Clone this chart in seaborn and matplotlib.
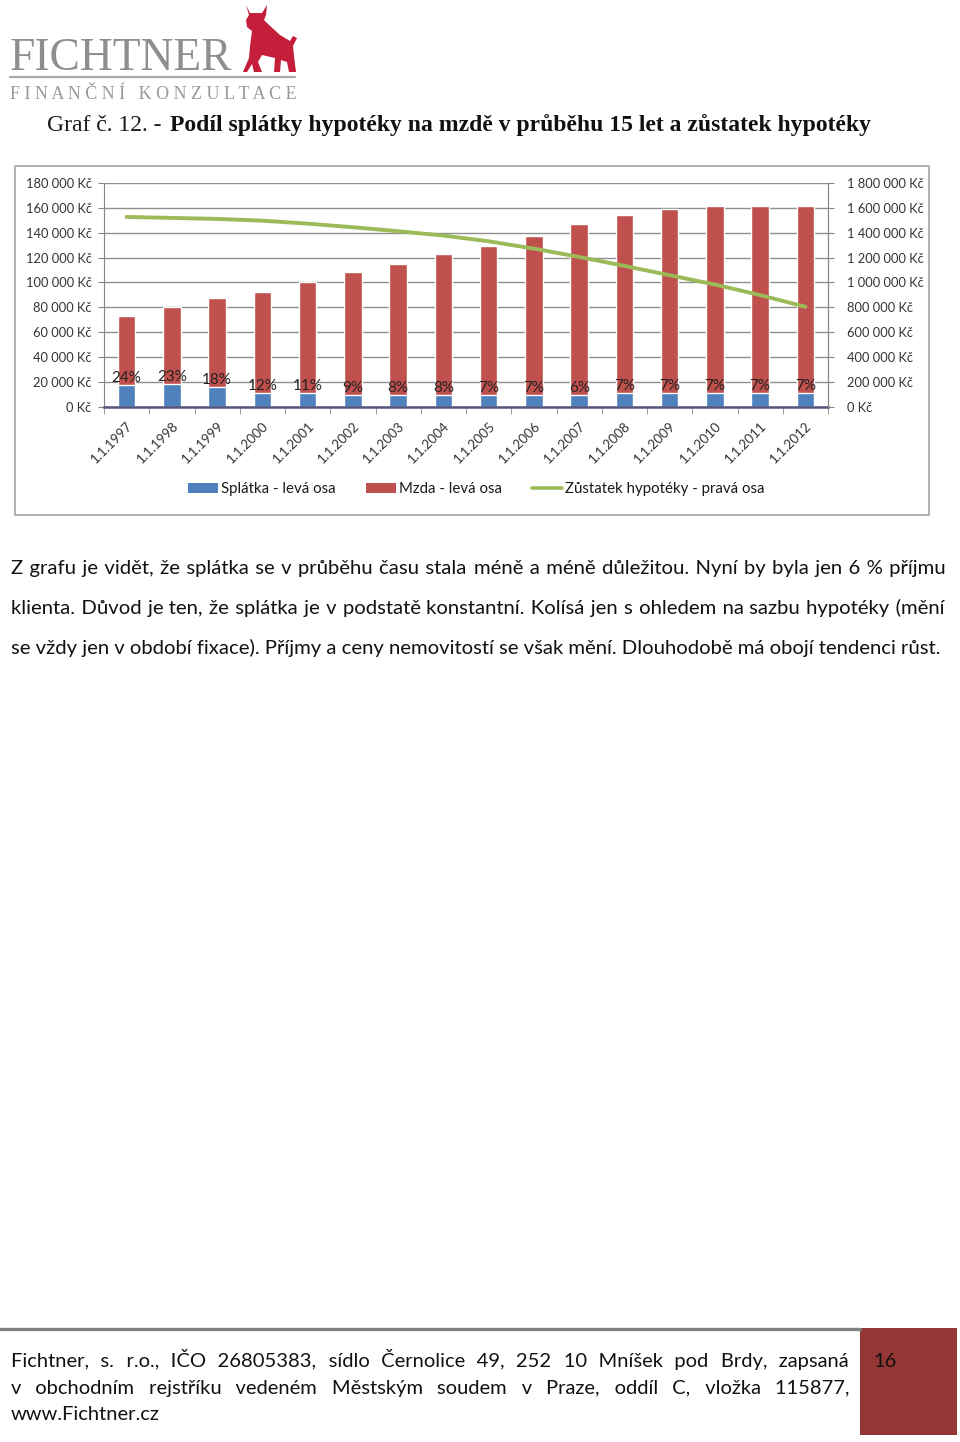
import numpy as np
import pandas as pd
import matplotlib
matplotlib.use("Agg")
import matplotlib.pyplot as plt
import seaborn as sns
from matplotlib.patches import Rectangle, Patch, Polygon
from matplotlib.lines import Line2D

# ---------------- data ----------------
dates = ["1.1.1997", "1.1.1998", "1.1.1999", "1.1.2000", "1.1.2001", "1.1.2002",
         "1.1.2003", "1.1.2004", "1.1.2005", "1.1.2006", "1.1.2007", "1.1.2008",
         "1.1.2009", "1.1.2010", "1.1.2011", "1.1.2012"]
mzda = [73100, 79900, 87100, 92400, 100500, 108200, 114900, 122900,
        129100, 137200, 147300, 154000, 159400, 161800, 161800, 161800]
splatka = [17800, 18300, 15600, 11200, 11200, 9800, 9400, 9500,
           9100, 9500, 9300, 10700, 11200, 11300, 11300, 11300]
podil = ["24%", "23%", "18%", "12%", "11%", "9%", "8%", "8%",
         "7%", "7%", "6%", "7%", "7%", "7%", "7%", "7%"]
zustatek = [1527000, 1519000, 1511000, 1497000, 1473000, 1444000, 1412000, 1377000,
            1331000, 1272000, 1205000, 1133000, 1058000, 983000, 898000, 804000]
left_ticks = list(range(0, 180001, 20000))
right_ticks = list(range(0, 1800001, 200000))
legend_labels = ["Splátka - levá osa", "Mzda - levá osa", "Zůstatek hypotéky - pravá osa"]

title_normal = "Graf č. 12. - "
title_bold = "Podíl splátky hypotéky na mzdě v průběhu 15 let a zůstatek hypotéky"
body_lines = [
    "Z grafu je vidět, že splátka se v průběhu času stala méně a méně důležitou. Nyní by byla jen 6 % příjmu",
    "klienta. Důvod je ten, že splátka je v podstatě konstantní. Kolísá jen s ohledem na sazbu hypotéky (mění",
    "se vždy jen v období fixace). Příjmy a ceny nemovitostí se však mění. Dlouhodobě má obojí tendenci růst.",
]
footer_lines = [
    "Fichtner, s. r.o., IČO 26805383, sídlo Černolice 49, 252 10 Mníšek pod Brdy, zapsaná",
    "v  obchodním rejstříku vedeném Městským soudem v Praze, oddíl C, vložka 115877,",
    "www.Fichtner.cz",
]

BLUE = "#4F81BD"
RED = "#C0504D"
GREEN = "#9BBB59"
SANS = ["Lato", "DejaVu Sans"]
SERIF = ["Liberation Serif", "DejaVu Serif"]

sns.set_style("white")
plt.rcParams["font.family"] = SANS

W, H = 960, 1442
fig = plt.figure(figsize=(W / 100, H / 100), dpi=100)
fig.patch.set_facecolor("white")
renderer = fig.canvas.get_renderer()


def fx(x):
    return x / W


def fy(y):
    return 1 - y / H


def measure(s, fs, family, weight="normal"):
    t = fig.text(0, 0, s, fontsize=fs, family=family, weight=weight)
    w = t.get_window_extent(renderer).width
    t.remove()
    return w


HAIR = "\u200a"


def justify(line, x0, x1, yb, fs, family, color):
    """One text per line; extra width spread over the word gaps with hair spaces."""
    words = [w for w in line.split(" ") if w != ""]
    natural = measure(" ".join(words), fs, family)
    hair = measure("a" + HAIR * 10 + "a", fs, family) - measure("aa", fs, family)
    hair = hair / 10
    n = len(words) - 1
    extra = (x1 - x0) - natural
    total_h = max(0, int(round(extra / hair)))
    out = words[0]
    used = 0
    for i in range(1, len(words)):
        k = int(round(total_h * i / n)) - used
        used += k
        out += " " + HAIR * k + words[i]
    fig.text(fx(x0), fy(yb), out, fontsize=fs, family=family, color=color, va="baseline")


# ---------------- header ----------------
fs_logo = 32 * 223 / measure("FICHTNER", 32, SERIF)
fig.text(fx(10), fy(70), "FICHTNER", fontsize=fs_logo, family=SERIF, color="#8e8e8e", va="baseline")
fig.add_artist(Line2D([fx(10), fx(295)], [fy(77), fy(77)], color="#a9a9a9", lw=1.6,
                      transform=fig.transFigure))
sub = "F I N A N Č N Í   K O N Z U L T A C E"
fs_sub = 12 * 285 / measure(sub, 12, SERIF)
fig.text(fx(10), fy(99), sub, fontsize=fs_sub, family=SERIF, color="#9a9a9a", va="baseline")

bull = [(246, 5), (250, 13), (262, 13), (267, 5), (266, 15), (264, 20), (268, 24), (280, 35),
        (290, 41), (293, 36), (297, 38), (293, 46), (294, 56), (296, 72), (289, 72), (287, 62),
        (281, 60), (280, 72), (274, 72), (275, 58), (262, 55), (258, 62), (262, 72), (254, 72),
        (252, 64), (247, 72), (243, 72), (249, 58), (250, 46), (252, 31), (247, 27), (246, 20),
        (249, 15)]
fig.add_artist(Polygon([(fx(a), fy(b)) for a, b in bull], closed=True, facecolor="#C41E3A",
                       edgecolor="none", transform=fig.transFigure))

tw_n = measure(title_normal, 18, SERIF)
tw_b = measure(title_bold, 18, SERIF, "bold")
fs_title = 18 * (868 - 47) / (tw_n + tw_b + 3)
x_b = 47 + measure(title_normal, fs_title, SERIF) + 3
fig.text(fx(47), fy(131), title_normal, fontsize=fs_title, family=SERIF, color="#1a1a1a", va="baseline")
fig.text(fx(x_b), fy(131), title_bold, fontsize=fs_title, family=SERIF, weight="bold",
         color="#111111", va="baseline")

# ---------------- chart ----------------
fig.add_artist(Rectangle((fx(15), fy(515)), (929 - 15) / W, (515 - 166) / H, transform=fig.transFigure,
                         fill=False, edgecolor="#a6a6a6", lw=1.2))

ax = fig.add_axes([fx(104), fy(406.7), (828 - 104) / W, (406.7 - 183) / H])
df = pd.DataFrame({"datum": dates, "mzda": mzda, "splatka": splatka})
sns.barplot(data=df, x="datum", y="mzda", color=RED, saturation=1, width=0.39, ax=ax, zorder=2)
sns.barplot(data=df, x="datum", y="splatka", color=BLUE, saturation=1, width=0.39, ax=ax, zorder=3)
ax.bar_label(ax.containers[1], labels=podil, padding=0, fontsize=11, color="#222222")

ax.set_xlim(-0.5, len(dates) - 0.5)
ax.set_ylim(0, 180000)
ax.set_yticks(left_ticks)
ax.set_yticklabels([f"{v:,}".replace(",", " ") + " Kč" for v in left_ticks], fontsize=9.3, color="#333333")
ax.yaxis.grid(True, color="#8f8f8f", lw=1)
ax.set_axisbelow(True)
ax.set_xlabel("")
ax.set_ylabel("")
ax.tick_params(axis="y", which="major", length=4, color="#868686", direction="out", pad=5)
ax.set_xticks(np.arange(-0.5, len(dates), 1), minor=True)
ax.tick_params(axis="x", which="major", length=0, pad=9)
ax.tick_params(axis="x", which="minor", length=5, color="#868686", direction="out", bottom=True)
ax.set_xticks(range(len(dates)))
ax.set_xticklabels(dates, fontsize=9.6, color="#333333", rotation=45, ha="right", rotation_mode="anchor")
ax.spines["top"].set_visible(False)
ax.spines["left"].set_color("#868686")
ax.spines["right"].set_color("#868686")
ax.spines["bottom"].set_color("#55557a")
ax.spines["bottom"].set_linewidth(1.8)
ax.spines["bottom"].set_zorder(5)

ax2 = ax.twinx()
sns.lineplot(x=np.arange(len(dates)), y=zustatek, ax=ax2, color=GREEN, lw=2.8)
ax2.set_ylim(0, 1800000)
ax2.set_yticks(right_ticks)
ax2.set_yticklabels([f"{v:,}".replace(",", " ") + " Kč" for v in right_ticks], fontsize=9.3, color="#333333")
ax2.tick_params(axis="y", length=4, color="#868686", direction="out", pad=10)
ax2.set_ylabel("")
ax2.grid(False)
for s in ["top", "left", "bottom"]:
    ax2.spines[s].set_visible(False)
ax2.spines["right"].set_color("#868686")
ax2.set_xlim(-0.5, len(dates) - 0.5)

handles = [Patch(facecolor=BLUE, edgecolor="none"), Patch(facecolor=RED, edgecolor="none"),
           Line2D([], [], color=GREEN, lw=2.6)]
fig.legend(handles=handles, labels=legend_labels, loc="center", bbox_to_anchor=(fx(476), fy(489)),
           ncol=3, frameon=False, fontsize=10.8, handlelength=2.0, handleheight=0.7,
           columnspacing=2.0, handletextpad=0.2, labelcolor="#1a1a1a")

# ---------------- body text ----------------
fs_body = 12 * (941 - 11) / measure(body_lines[2], 12, SANS)
for i, yb in enumerate([574, 614, 654]):
    if i < 2:
        justify(body_lines[i], 11, 945, yb, fs_body, SANS, "#111111")
    else:
        fig.text(fx(11), fy(yb), body_lines[i], fontsize=fs_body, family=SANS, color="#111111", va="baseline")

# ---------------- footer ----------------
fig.add_artist(Line2D([0, fx(860)], [fy(1329), fy(1329)], color="#7f7f7f", lw=2.4,
                      transform=fig.transFigure))
fig.add_artist(Rectangle((fx(860), fy(1435)), 97 / W, (1435 - 1328) / H, transform=fig.transFigure,
                         facecolor="#943634", edgecolor="none"))
fs_foot = 12 * (159 - 11) / measure(footer_lines[2], 12, SANS)
for i, yb in enumerate([1367, 1394, 1420]):
    if i < 2:
        justify(footer_lines[i], 11, 849, yb, fs_foot, SANS, "#111111")
    else:
        fig.text(fx(11), fy(yb), footer_lines[i], fontsize=fs_foot, family=SANS, color="#111111", va="baseline")
fig.text(fx(873), fy(1367), "16", fontsize=fs_foot, family=SANS, color="#111111", va="baseline")

fig.savefig("out.png", dpi=100, facecolor="white")
